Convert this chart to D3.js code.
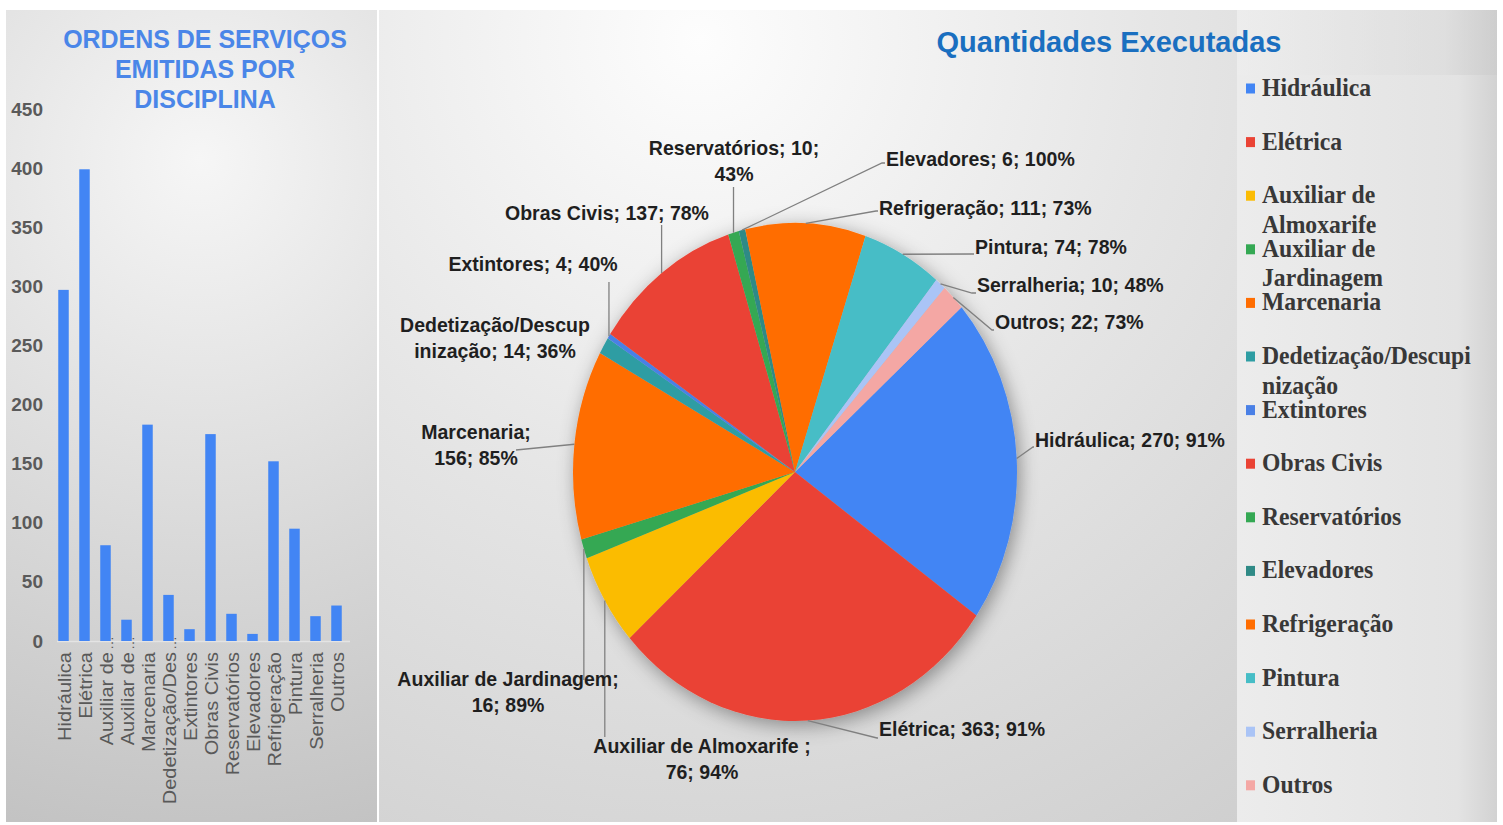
<!DOCTYPE html>
<html><head><meta charset="utf-8">
<script src="https://cdn.jsdelivr.net/npm/d3@7"></script>
<style>body{margin:0;background:#fff;} svg{display:block;}</style>
</head><body>
<svg id="c" width="1503" height="825"></svg>
<script>
// ---------- DATA ----------
const categories = ["Hidráulica","Elétrica","Auxiliar de Almoxarife ","Auxiliar de Jardinagem","Marcenaria","Dedetização/Descupinização","Extintores","Obras Civis","Reservatórios","Elevadores","Refrigeração","Pintura","Serralheria","Outros"];
const barTickLabels = ["Hidráulica","Elétrica","Auxiliar de …","Auxiliar de …","Marcenaria","Dedetização/Des…","Extintores","Obras Civis","Reservatórios","Elevadores","Refrigeração","Pintura","Serralheria","Outros"];
const ordersIssued = [297,399,81,18,183,39,10,175,23,6,152,95,21,30];
const executed = [270,363,76,16,156,14,4,137,10,6,111,74,10,22];
const executedPct = [91,91,94,89,85,36,40,78,43,100,73,78,48,73];
const yTicks = [0,50,100,150,200,250,300,350,400,450];
const pieColors = ["#4285f4","#ea4335","#fbbc04","#34a853","#ff6d01","#2e9da3","#4a80e6","#ea4335","#34a853","#2f8a86","#ff6d01","#46bdc6","#aac4f6","#f4a7a4"];
const barTitle = ["ORDENS DE SERVIÇOS","EMITIDAS POR","DISCIPLINA"];
const pieTitle = "Quantidades Executadas";

// ---------- LAYOUT ----------
const svg = d3.select("#c");
const defs = svg.append("defs");

function radial(id, cx, cy, r, stops){
  const g = defs.append("radialGradient").attr("id", id).attr("gradientUnits","userSpaceOnUse")
    .attr("cx",cx).attr("cy",cy).attr("r",r);
  stops.forEach(s=>g.append("stop").attr("offset",s[0]).attr("stop-color",s[1]));
}
function linear(id, x1,y1,x2,y2, stops){
  const g = defs.append("linearGradient").attr("id", id).attr("gradientUnits","userSpaceOnUse")
    .attr("x1",x1).attr("y1",y1).attr("x2",x2).attr("y2",y2);
  stops.forEach(s=>g.append("stop").attr("offset",s[0]).attr("stop-color",s[1]));
}
radial("bgL", 200, 160, 700, [[0,"#f6f6f6"],[0.55,"#d9d9d9"],[1,"#c2c2c2"]]);
radial("bgR", 700, 40, 1000, [[0,"#fdfdfd"],[0.45,"#e6e6e6"],[1,"#cdcdcd"]]);
linear("bgLeg", 1237, 0, 1497, 0, [[0,"#ececec"],[0.85,"#e3e3e3"],[1,"#d2d2d2"]]);
linear("bgTopR", 1237, 0, 1497, 0, [[0,"#f4f4f4"],[0.8,"#e2e2e2"],[1,"#c8c8c8"]]);

const sh = defs.append("filter").attr("id","shadow").attr("x","-30%").attr("y","-30%").attr("width","160%").attr("height","160%");
sh.append("feDropShadow").attr("dx",3).attr("dy",4).attr("stdDeviation",9).attr("flood-color","#000").attr("flood-opacity",0.38);

svg.append("rect").attr("x",6).attr("y",10).attr("width",371).attr("height",812).attr("fill","url(#bgL)");
svg.append("rect").attr("x",379).attr("y",10).attr("width",1118).attr("height",812).attr("fill","url(#bgR)");
svg.append("rect").attr("x",1237).attr("y",10).attr("width",260).attr("height",65).attr("fill","url(#bgTopR)").attr("opacity",0.6);
svg.append("rect").attr("x",1237).attr("y",75).attr("width",260).attr("height",747).attr("fill","url(#bgLeg)");

const FONT = "'Liberation Sans', Arial, sans-serif";
function sqText(g, x, y, str, o){
  o = o || {};
  return g.append("text")
    .attr("transform", `translate(${x},${y}) scale(${o.sx||1},1)` + (o.rot?` rotate(${o.rot})`:""))
    .attr("text-anchor", o.anchor||"start")
    .attr("font-family", o.family||FONT)
    .attr("font-size", o.size||20)
    .attr("font-weight", o.weight||"bold")
    .attr("fill", o.fill||"#1f1f1f")
    .text(str);
}

// ---------- BAR CHART ----------
const x = d3.scaleBand().domain(categories).range([53, 347]).paddingInner(0.5).paddingOuter(0.25);
const y = d3.scaleLinear().domain([0, 450]).range([641, 109]);
const gb = svg.append("g");

barTitle.forEach((t,i)=> sqText(gb, 205, 48 + i*30, t, {anchor:"middle", size:26, sx:0.96, fill:"#4a86e8"}));

gb.append("g").attr("transform","translate(57,0)")
  .call(d3.axisLeft(y).tickValues(yTicks).tickSize(0).tickPadding(14))
  .call(g=>g.select(".domain").remove())
  .call(g=>g.selectAll("text").attr("font-family",FONT).attr("font-size",19).attr("font-weight","bold").attr("fill","#5a5a5a"));

gb.append("line").attr("x1",57).attr("x2",350).attr("y1",y(0)+0.5).attr("y2",y(0)+0.5).attr("stroke","#e4e4e4").attr("stroke-width",1.5);

gb.selectAll("rect.bar").data(ordersIssued).join("rect").attr("class","bar")
  .attr("x",(d,i)=>x(categories[i])).attr("width",x.bandwidth())
  .attr("y",d=>y(d)).attr("height",d=>y(0)-y(d)).attr("fill","#4285f4");

barTickLabels.forEach((t,i)=>{
  const cxb = x(categories[i]) + x.bandwidth()/2 + 7;
  const main = t.replace("…","").trimEnd();
  sqText(gb, cxb, 652, main, {anchor:"end", size:20, sx:0.9, rot:-90, weight:"normal", fill:"#595959"});
  if (t.endsWith("…")) sqText(gb, cxb, 650, "…", {anchor:"start", size:14, sx:0.9, rot:-90, weight:"normal", fill:"#595959"});
});

// ---------- PIE ----------
const cx = 795, cy = 472, rx = 222, ry = 249;
const a0 = 48.6 * Math.PI/180;
const pie = d3.pie().sort(null).value(d=>d).startAngle(a0).endAngle(a0 + 2*Math.PI);
const arcs = pie(executed);
const arc = d3.arc().innerRadius(0).outerRadius(rx);
const gp = svg.append("g").attr("transform",`translate(${cx},${cy}) scale(1,${ry/rx})`);
const gpie = gp.append("g").attr("filter","url(#shadow)");
gpie.selectAll("path").data(arcs).join("path").attr("d",arc).attr("fill",(d,i)=>pieColors[i]);

sqText(svg, 1109, 52, pieTitle, {anchor:"middle", size:29, fill:"#1a6fc0"});

// label layout: anchor point (first line centre), anchor, split index, leader end
const labelLayout = [
  {x:1035, y:440, a:"start",  split:0,  lx:1033, ly:447},
  {x:879,  y:729, a:"start",  split:0,  lx:877,  ly:738},
  {x:702,  y:746, a:"middle", split:24, lx:null, ly:737},
  {x:508,  y:679, a:"middle", split:23, lx:null, ly:680},
  {x:476,  y:432, a:"middle", split:11, lx:516,  ly:450},
  {x:495,  y:325, a:"middle", split:18, lx:null, ly:null},
  {x:533,  y:264, a:"middle", split:0,  lx:null, ly:282},
  {x:607,  y:213, a:"middle", split:0,  lx:null, ly:225},
  {x:734,  y:148, a:"middle", split:18, lx:null, ly:187},
  {x:886,  y:159, a:"start",  split:0,  lx:882,  ly:163},
  {x:879,  y:208, a:"start",  split:0,  lx:876,  ly:211},
  {x:975,  y:247, a:"start",  split:0,  lx:972,  ly:254},
  {x:977,  y:285, a:"start",  split:0,  lx:972,  ly:293},
  {x:995,  y:322, a:"start",  split:0,  lx:992,  ly:330}
];

const gl = svg.append("g");
arcs.forEach((d,i)=>{
  const L = labelLayout[i];
  const mid = (d.startAngle + d.endAngle)/2;
  const ex = cx + rx*Math.sin(mid), ey = cy - ry*Math.cos(mid);
  if (L.ly !== null){
    const lx = L.lx === null ? ex : L.lx;
    gl.append("path").attr("d", `M${ex},${ey}L${lx},${L.ly}` + (L.a==="start" ? `L${L.x-1},${L.ly}` : ""))
      .attr("fill","none").attr("stroke","#808080").attr("stroke-width",1.3);
  }
  const full = `${categories[i]}; ${executed[i]}; ${executedPct[i]}%`;
  const lines = L.split ? [full.slice(0,L.split).trimEnd(), full.slice(L.split).trim()] : [full];
  lines.forEach((t,j)=> sqText(gl, L.x, L.y + 7 + j*26, t, {anchor:L.a, size:21, sx:0.93}));
});

// ---------- LEGEND ----------
const legendBreak = {2:11, 3:11, 5:19};
const gLeg = svg.append("g");
categories.forEach((c,i)=>{
  const yc = 88 + i*53.6;
  gLeg.append("rect").attr("x",1246).attr("y",yc-4.5).attr("width",9).attr("height",10).attr("fill",pieColors[i]);
  const name = c.trim();
  const b = legendBreak[i];
  const lines = b ? [name.slice(0,b).trim(), name.slice(b).trim()] : [name];
  lines.forEach((t,j)=> sqText(gLeg, 1262, yc + 8 + j*29.5, t, {size:26, sx:0.91, family:"'Liberation Serif', 'Times New Roman', serif", fill:"#383838"}));
});
</script>
</body></html>
